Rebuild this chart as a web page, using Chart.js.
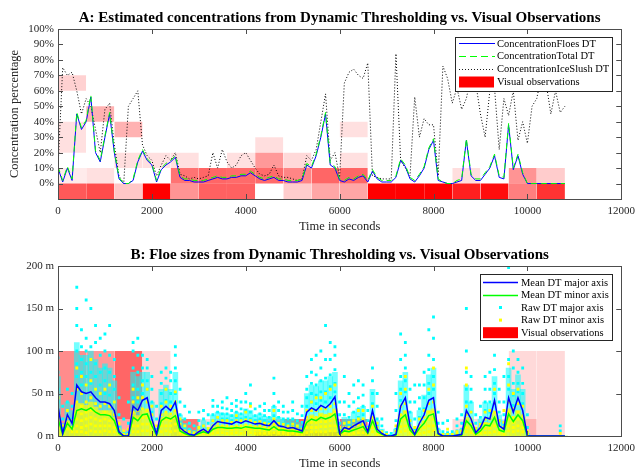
<!DOCTYPE html>
<html><head><meta charset="utf-8">
<script src="https://cdn.jsdelivr.net/npm/chart.js@4"></script>
<style>
html,body{margin:0;padding:0;background:#fff;width:641px;height:472px;overflow:hidden}
.c{position:absolute;left:0;width:641px;height:236px}
</style></head><body>
<div class="c" style="top:0"><canvas id="ca" width="641" height="236"></canvas></div>
<div class="c" style="top:236px"><canvas id="cb" width="641" height="236"></canvas></div>
<script>
// ---------- shared axis data ----------
const xTicks = [0,2000,4000,6000,8000,10000,12000];
const yTicksA = [0,10,20,30,40,50,60,70,80,90,100];
const yTicksB = [0,50,100,150,200];
const BIN = 600;
const times = [0,100,200,300,400,500,600,700,800,900,
1000,1100,1200,1300,1400,1500,1600,1700,1800,1900,
2000,2100,2200,2300,2400,2500,2600,2700,2800,2900,
3000,3100,3200,3300,3400,3500,3600,3700,3800,3900,
4000,4100,4200,4300,4400,4500,4600,4700,4800,4900,
5000,5100,5200,5300,5400,5500,5600,5700,5800,5900,
6000,6100,6200,6300,6400,6500,6600,6700,6800,6900,
7000,7100,7200,7300,7400,7500,7600,7700,7800,7900,
8000,8100,8200,8300,8400,8500,8600,8700,8800,8900,
9000,9100,9200,9300,9400,9500,9600,9700,9800,9900,
10000,10100,10200,10300,10400,10500,10600,10700,10800];

// ---------- panel A: concentrations (%) ----------
const concFloes = [10,1,10,2,45,35,40,56,20,14,
30,45,20,3,0,0,2,14,21,15,
12,1,9,12,14,17,4,2,2,1,
1,1,2,3,4,3,3,4,4,5,
5,7,5,3,2,3,4,2,2,1,
1,1,2,12,10,18,30,45,12,10,
2,1,3,2,4,5,1,8,3,1,
1,1,4,15,11,3,1,5,10,22,
28,2,1,0,0,1,2,28,5,2,
2,6,10,18,4,3,38,9,18,6,
0,0,0,0,0,0,0,0,0];
const concTotal = [11,2,11,3,46,36,41,57,21,15,
31,46,21,4,0,0,3,15,22,16,
13,2,10,13,15,18,5,3,3,2,
2,2,3,4,5,4,4,5,5,6,
6,8,6,4,3,4,5,3,3,2,
2,2,3,13,11,19,31,46,13,11,
3,2,4,3,5,6,2,9,4,2,
2,2,5,16,12,4,2,6,11,23,
29,3,1,0,0,2,3,29,6,3,
3,7,11,19,5,4,39,10,19,7,
0,0,0,0,0,0,0,0,0];
const concSlush = [10,75,70,72,60,45,55,50,35,20,
48,52,25,5,0,50,55,60,25,18,
15,5,12,18,15,20,6,5,3,4,
3,4,5,20,10,22,14,10,12,18,
20,15,10,6,5,6,12,5,4,4,
3,2,3,18,15,22,40,58,15,20,
4,65,72,74,70,68,78,5,4,3,
3,3,84,15,10,5,56,30,42,38,
38,5,76,68,52,62,48,55,70,65,
45,30,60,62,22,55,44,60,28,40,
26,50,55,70,65,45,60,46,50];
// visual observation cells (bin start s, low %, high %, share of observations)
const obsAStart = [0,0,0,0, 600,600,600, 1200,1200,1200, 1800,1800, 2400,2400,2400, 3000,3000, 3600,3600,3600, 4200,4200,4200, 4800,4800,4800, 5400,5400, 6000,6000,6000,6000, 6600,7200,7800, 8400,8400, 9000, 9600,9600, 10200,10200];
const obsALow   = [-10,0,20,60, -10,0,40, -10,10,30, -10,10, -10,0,10, -10,0, -10,0,10, 0,10,20, -10,0,10, -10,0, -10,0,10,30, -10,-10,-10, -10,0, -10, -10,0, -10,0];
const obsAHigh  = [0,10,40,70, 0,10,50, 0,20,40, 0,20, 0,10,20, 0,10, 0,10,20, 10,20,30, 0,10,20, 0,10, 0,10,20,40, 0,0,0, 0,10, 0, 0,10, 0,10];
const obsAShare = [0.65,0.08,0.12,0.18, 0.7,0.12,0.3, 0.22,0.13,0.3, 1,0.12, 0.42,0.55,0.12, 0.62,0.6, 0.62,0.58,0.12, 0.58,0.4,0.13, 0.2,0.48,0.15, 0.35,0.6, 0.35,0.6,0.12,0.12, 1,1,1, 0.88,0.13, 0.95, 0.5,0.42, 0.8,0.2];

// ---------- panel B: floe sizes (m) ----------
const meanMajor = [35,3,25,15,60,52,50,52,45,40,
40,38,30,5,0,0,35,30,42,45,
20,2,30,35,30,40,10,5,2,1,
5,8,4,12,17,16,15,14,17,15,
18,16,14,15,13,12,18,12,11,9,
10,8,6,28,33,30,36,33,38,46,
3,10,8,12,15,18,5,30,8,3,
0,0,2,35,45,12,2,15,25,42,
45,3,0,0,0,1,2,30,20,4,
10,22,20,42,12,8,45,28,45,30,
0,0,0,0,0,0,0,0,0];
const meanMinor = [20,2,15,8,30,32,30,33,28,25,
25,24,18,3,0,0,22,18,25,26,
12,1,18,22,20,24,6,3,1,1,
3,5,3,8,10,10,9,9,10,9,
11,10,9,9,8,7,11,7,7,6,
6,5,4,16,20,18,22,20,22,26,
2,6,5,7,9,11,3,18,5,2,
0,0,1,20,25,7,1,9,15,24,
26,2,0,0,0,1,1,18,12,2,
6,13,12,22,7,5,26,17,25,18,
0,0,0,0,0,0,0,0,0];
// upper edge of the dense part of each raw-detection cloud (m)
const rawMajorDenseTop = [70,15,40,30,110,95,95,100,90,80,
85,80,65,12,4,6,75,70,75,75,
40,8,55,60,55,75,25,15,8,5,
12,18,10,25,28,27,26,25,28,26,
32,30,24,26,23,22,35,22,20,18,
20,16,14,50,60,58,65,65,70,75,
10,22,20,28,32,35,12,55,18,8,
2,2,8,65,75,28,8,30,48,72,
80,8,3,3,3,5,8,60,40,10,
20,40,38,70,25,18,80,55,72,55,
3,0,0,0,0,0,0,0,0];
const rawMinorDenseTop = [25,5,18,10,38,38,36,40,34,30,
30,30,22,4,1,2,28,24,30,32,
15,2,22,27,24,30,8,4,2,1,
4,6,4,10,12,12,11,11,12,11,
13,12,11,11,10,9,13,9,9,7,
8,6,5,20,25,22,27,25,27,32,
3,8,6,9,11,13,4,22,6,2,
0,0,2,25,30,9,2,11,18,30,
32,2,0,0,0,1,2,22,15,3,
8,16,15,27,9,6,32,21,30,22,
0,0,0,0,0,0,0,0,0];
// scattered raw detections (m) at each time step
const rawMajor = [[40,55,75,92],[10,20,35],[30,40,55],[20,35,50],[70,85,100,130,150,175],[60,75,90,105,125],[60,70,85,100,115,160],[62,75,90,105,150],[55,70,85,110,130],[50,60,75,95,115],
[50,65,80,100,120],[48,60,75,95,130],[40,55,70,90],[10,25,45],[5,20],[3,15,40],[45,60,80,100,110],[40,55,75,95,115],[50,65,80,95],[55,65,80,90],
[28,40,55,70],[8,20,35],[38,50,62,75],[42,55,68,80],[40,50,65,75],[50,65,80,95,105],[15,25,40,55],[10,20,35],[8,15,28],[5,12],
[10,18,28],[12,20,30],[8,15,25],[18,25,35,42],[22,28,35],[20,26,33,40],[20,26,32,45],[18,24,30,38],[22,28,35,42],[20,26,32,40],
[22,30,40,50],[20,28,38,60],[18,24,32],[20,26,35],[18,24,30,38],[16,22,30],[24,35,50,68],[16,22,30,40],[15,20,28,35],[14,20,28],
[14,20,30,40],[12,18,26],[10,16,24,35],[35,45,55,70],[40,50,62,75,90],[38,48,60,72,95],[42,52,65,80,100],[40,52,68,90,130],[45,58,72,90,110],[52,62,78,95,105],
[8,15,25,40],[15,25,40,70],[14,22,35,50],[18,28,40,60],[22,32,45,65],[25,35,48,60],[10,18,30],[38,50,65,80],[12,20,35,50],[6,12,20],
[4],[3],[8,18,30,50],[42,55,70,90,120],[52,65,80,95,110],[18,28,40,55],[8,20,40,60],[22,32,45,60],[32,45,60,75],[50,62,78,95,125],
[55,70,90,115,140],[8,15,28],[5,15],[4,18],[5],[6,12,20],[8,15,25],[40,55,75,100,150],[28,40,55,70],[8,15,25],
[15,22,35],[30,40,55,70],[28,40,55,75],[50,62,78,95,120],[18,28,40,55],[14,25,40,70],[55,70,90,120,160,198],[36,48,62,80,100],[52,62,75,90],[38,50,62,80],
[4,10,25],[],[],[],[],[],[],[6,12],[]];
const rawMinor = [[10,25,45],[5,12],[8,15,22,30],[5,10,18],[5,12,20,28,40,55,80],[5,10,18,26,35,50,70],[4,12,20,28,40,60],[6,14,22,30,45,65,90],[5,12,20,28,38,55],[5,12,18,25,35,50],
[6,12,20,28,38,55],[5,12,18,25,35,60],[5,10,18,25,40],[3,8,15],[2,6],[2,8],[5,12,20,28,40,55],[5,12,20,30,45],[6,14,22,32,45,60],[6,14,22,30,40,55],
[4,10,16,25,35],[2,6,12],[5,12,18,25,35],[6,12,20,28,40,55],[5,12,18,26,35],[6,14,22,30,40,52],[3,8,14,20],[2,6,12],[2,5],[2,4],
[2,6,10],[3,7,12],[2,5,9],[3,7,12,18],[4,8,12,16,22],[4,8,12,18],[3,8,12,18],[3,7,11,16],[4,8,12,18,24],[3,8,12,18],
[4,8,13,19,28],[4,8,12,18,35],[3,7,11,16],[3,7,12,17],[3,7,11,15],[3,6,10,14],[4,9,14,20,30],[3,6,10,15],[3,6,10,14],[2,5,9,12],
[3,6,10,14],[2,5,8,12],[2,5,8],[4,10,16,22,30],[5,10,16,22,30,40],[5,10,16,22,30,45],[5,11,17,24,32,45],[5,11,17,24,32,50],[6,12,18,25,35,55],[6,12,20,28,38,60],
[2,5,10],[3,6,10,15],[2,6,10,16],[3,7,12,18],[4,8,13,20,30],[4,9,14,20,30],[2,5,9],[5,10,16,22,35],[2,6,10,15],[2,5],
[2],[],[2,6,12],[5,11,18,25,35,50],[6,12,20,28,38,55,70],[3,7,12,18],[2,5,10],[3,8,13,20],[4,10,16,22,30],[5,12,20,28,38,55],
[6,12,20,28,40,60,80],[2,5],[2],[2,8],[2],[2,5],[2,6],[5,10,18,25,35,60,80],[4,8,14,20,28],[2,5,9],
[3,6,10,14],[4,9,14,20,28],[4,9,14,20,30],[5,12,20,28,38,55],[3,7,12,18],[2,6,10,16,30],[6,12,20,28,40,60,85],[5,10,16,22,32,50],[6,12,20,28,38,55],[5,10,16,24,35],
[2,5],[],[],[],[],[],[],[3],[]];
const obsBStart = [0,600,1200,1200,1800,2400,3000,3600,4200,4200,4800,4800,5400,5400,6000,8400,9000,9600,9600,10200];
const obsBLow   = [0,0,20,0,0,0,0,0,0,5,0,5,0,5,0,0,0,0,20,0];
const obsBHigh  = [100,100,100,20,100,20,20,20,5,20,5,20,5,20,20,20,20,20,100,100];
const obsBShare = [0.45,0.4,0.6,0.35,0.15,0.55,0.15,0.1,1,0.3,1,0.6,1,0.3,0.6,0.15,0.15,0.3,0.15,0.15];

// ---------- helpers ----------
const FONT = 'Liberation Serif';
const TXT = '#262626';
const series = (vals) => vals.map((v, i) => ({x: times[i], y: v}));
const ranges = (tops) => tops.map((v, i) => ({x: times[i], y: [0, v]}));
const cloud = (lists) => { const out = []; lists.forEach((l, i) => l.forEach(v => out.push({x: times[i], y: v}))); return out; };
const cells = (start, low, high, share) => start.map((s, i) => ({
  type: 'line', data: [{x: s, y: high[i]}, {x: s + BIN, y: high[i]}],
  fill: {value: low[i]}, backgroundColor: `rgba(255,0,0,${share[i]})`,
  borderWidth: 0, borderColor: 'rgba(0,0,0,0)', pointRadius: 0, order: 10
}));

const frame = {
  id: 'frame',
  afterDatasetsDraw(chart) {
    const {ctx, chartArea: a, scales: {x, y}} = chart;
    ctx.save();
    ctx.strokeStyle = '#4d4d4d'; ctx.lineWidth = 1;
    ctx.beginPath();
    x.ticks.forEach(t => { const p = Math.round(x.getPixelForValue(t.value)) + 0.5;
      ctx.moveTo(p, a.bottom); ctx.lineTo(p, a.bottom - 5); ctx.moveTo(p, a.top); ctx.lineTo(p, a.top + 5); });
    y.ticks.forEach(t => { const p = Math.round(y.getPixelForValue(t.value)) + 0.5;
      ctx.moveTo(a.left, p); ctx.lineTo(a.left + 5, p); ctx.moveTo(a.right, p); ctx.lineTo(a.right - 5, p); });
    ctx.stroke();
    ctx.strokeRect(Math.round(a.left) + 0.5, Math.round(a.top) + 0.5, Math.round(a.right - a.left), Math.round(a.bottom - a.top));
    ctx.restore();
  }
};

function makeLegend(id, w, h, first, step, items) {
  return { id, afterDraw(chart) {
    const {ctx, chartArea: a} = chart;
    const x0 = Math.round(a.right - 9 - w), y0 = Math.round(a.top + 8);
    ctx.save();
    ctx.fillStyle = '#fff'; ctx.fillRect(x0, y0, w, h);
    ctx.strokeStyle = '#262626'; ctx.lineWidth = 1; ctx.strokeRect(x0 + 0.5, y0 + 0.5, w, h);
    ctx.font = `10.5px "${FONT}"`; ctx.textBaseline = 'middle'; ctx.textAlign = 'left';
    items.forEach((it, i) => {
      const yy = y0 + first + i * step;
      const sx = x0 + it.sx, ex = x0 + it.ex;
      if (it.kind === 'line') {
        ctx.strokeStyle = it.color; ctx.lineWidth = it.width; ctx.setLineDash(it.dash || []);
        ctx.beginPath(); ctx.moveTo(sx, Math.round(yy) + 0.5); ctx.lineTo(ex, Math.round(yy) + 0.5); ctx.stroke();
        ctx.setLineDash([]);
      } else if (it.kind === 'dot') {
        ctx.fillStyle = it.color; ctx.fillRect((sx + ex) / 2 - 1.5, yy - 1.5, 3, 3);
      } else {
        ctx.fillStyle = '#ff0000'; ctx.fillRect(sx, yy - 5.5, ex - sx, 11);
      }
      ctx.fillStyle = '#000'; ctx.fillText(it.label, x0 + it.tx, yy + 0.5);
    });
    ctx.restore();
  }};
}

function axes(yMin, yMax, yTicks, yFmt, yTitle, xHeight, titlePadB) {
  return {
    x: { type: 'linear', min: 0, max: 12000, offset: false,
      afterBuildTicks: s => { s.ticks = xTicks.map(v => ({value: v})); },
      afterFit: s => { s.height = xHeight; },
      ticks: { callback: v => String(v), font: {family: FONT, size: 11}, color: TXT, padding: 6, maxRotation: 0, autoSkip: false },
      grid: { display: false, drawTicks: false, offset: false }, border: { display: false },
      title: { display: true, text: 'Time in seconds', font: {family: FONT, size: 12.5}, color: TXT, padding: {top: 0, bottom: titlePadB} } },
    y: { type: 'linear', min: yMin, max: yMax,
      afterBuildTicks: s => { s.ticks = yTicks.map(v => ({value: v})); },
      afterFit: s => { s.width = 58; },
      ticks: { callback: yFmt, font: {family: FONT, size: 11}, color: TXT, padding: 4, autoSkip: false },
      grid: { display: false, drawTicks: false }, border: { display: false },
      title: { display: !!yTitle, text: yTitle, font: {family: FONT, size: 12.5}, color: TXT, padding: {top: 7, bottom: 0} } }
  };
}

// ---------- Chart A ----------
new Chart(document.getElementById('ca'), {
  type: 'line',
  data: { datasets: [
    ...cells(obsAStart, obsALow, obsAHigh, obsAShare),
    { data: series(concSlush), borderColor: '#000', borderWidth: 1, borderDash: [1, 2], pointRadius: 0, tension: 0, order: 3 },
    { data: series(concFloes), borderColor: '#0000ff', borderWidth: 1, pointRadius: 0, tension: 0, order: 2 },
    { data: series(concTotal), borderColor: '#00ff00', borderWidth: 1, borderDash: [6, 4], pointRadius: 0, tension: 0, order: 1 }
  ]},
  options: {
    responsive: false, animation: false, events: [],
    layout: { padding: { left: 0, right: 15, top: 0, bottom: 0 } },
    scales: axes(-10, 100, yTicksA, v => v + '%', 'Concentration percentage', 37, 2),
    plugins: {
      legend: { display: false }, tooltip: { enabled: false },
      title: { display: true, fullSize: false, text: 'A: Estimated concentrations from Dynamic Thresholding vs. Visual Observations',
        font: {family: FONT, size: 15, weight: 'bold'}, color: '#000', padding: {top: 9, bottom: 2} }
    }
  },
  plugins: [frame, makeLegend('legA', 157, 54, 6.3, 12.9, [
    {kind: 'line', color: '#0000ff', width: 1.2, sx: 4, ex: 40, tx: 42, label: 'ConcentrationFloes DT'},
    {kind: 'line', color: '#00ff00', width: 1.2, dash: [7, 4], sx: 4, ex: 40, tx: 42, label: 'ConcentrationTotal DT'},
    {kind: 'line', color: '#000', width: 0.9, dash: [1, 2], sx: 4, ex: 40, tx: 42, label: 'ConcentrationIceSlush DT'},
    {kind: 'rect', sx: 4, ex: 39, tx: 42, label: 'Visual observations'}
  ])]
});

// ---------- Chart B ----------
new Chart(document.getElementById('cb'), {
  type: 'line',
  data: { datasets: [
    ...cells(obsBStart, obsBLow, obsBHigh, obsBShare),
    { type: 'bar', data: ranges(rawMajorDenseTop), backgroundColor: 'rgba(0,255,255,0.55)', borderWidth: 0, barThickness: 5, grouped: false, order: 6 },
    { data: cloud(rawMajor), showLine: false, pointStyle: 'rect', pointRadius: 2, backgroundColor: '#00ffff', borderWidth: 0, order: 5 },
    { type: 'bar', data: ranges(rawMinorDenseTop), backgroundColor: 'rgba(255,255,0,0.7)', borderWidth: 0, barThickness: 5, grouped: false, order: 4.5 },
    { data: cloud(rawMinor), showLine: false, pointStyle: 'rect', pointRadius: 2, backgroundColor: '#ffff00', borderWidth: 0, order: 4 },
    { data: series(meanMinor), borderColor: '#00ff00', borderWidth: 1.5, pointRadius: 0, tension: 0, order: 3 },
    { data: series(meanMajor), borderColor: '#0000ff', borderWidth: 1.5, pointRadius: 0, tension: 0, order: 2 }
  ]},
  options: {
    responsive: false, animation: false, events: [],
    layout: { padding: { left: 0, right: 15, top: 0, bottom: 0 } },
    scales: axes(0, 200, yTicksB, v => v + ' m', '', 36, 0.5),
    plugins: {
      legend: { display: false }, tooltip: { enabled: false },
      title: { display: true, fullSize: false, text: 'B: Floe sizes from Dynamic Thresholding vs. Visual Observations',
        font: {family: FONT, size: 15, weight: 'bold'}, color: '#000', padding: {top: 10, bottom: 2} }
    }
  },
  plugins: [frame, makeLegend('legB', 132, 66, 8.3, 12.6, [
    {kind: 'line', color: '#0000ff', width: 1.5, sx: 3, ex: 38, tx: 41, label: 'Mean DT major axis'},
    {kind: 'line', color: '#00ff00', width: 1.5, sx: 3, ex: 38, tx: 41, label: 'Mean DT minor axis'},
    {kind: 'dot', color: '#00ffff', sx: 3, ex: 38, tx: 41, label: 'Raw DT major axis'},
    {kind: 'dot', color: '#ffff00', sx: 3, ex: 38, tx: 41, label: 'Raw DT minor axis'},
    {kind: 'rect', sx: 3, ex: 38, tx: 41, label: 'Visual observations'}
  ])]
});
</script></body></html>
